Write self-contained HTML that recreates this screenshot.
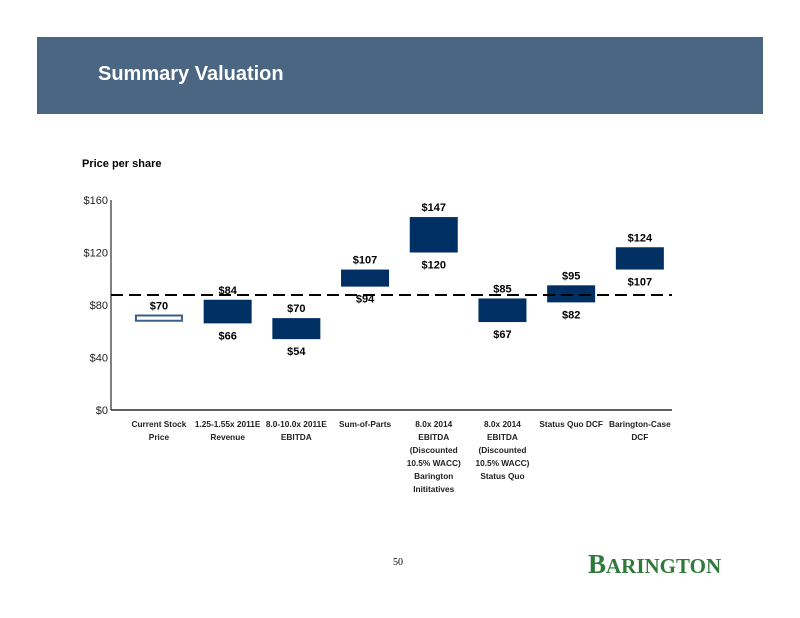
<!DOCTYPE html>
<html><head><meta charset="utf-8"><style>
body{margin:0;width:800px;height:618px;background:#fff;position:relative;overflow:hidden;font-family:"Liberation Sans",Arial,sans-serif}
.hdr{position:absolute;left:37px;top:37px;width:726px;height:77px;background:#4b6683}
.ttl{position:absolute;left:98px;top:63px;color:#fff;font-weight:bold;font-size:20px}
</style></head><body>
<div class="hdr"></div>
<div class="ttl">Summary Valuation</div>
<div style="position:absolute;left:82px;top:158px;font-size:11px;font-weight:bold">Price per share</div>
<svg id="chart" width="800" height="618" style="position:absolute;left:0;top:0"></svg>
<div style="position:absolute;left:393px;top:557px;font-family:'Liberation Serif',serif;font-size:10px">50</div>
<div style="position:absolute;left:588px;top:549px;font-family:'Liberation Serif',serif;font-weight:bold;color:#2f7a3a;font-size:27px">B<span style="font-size:21px">ARINGTON</span></div>
<script>
const categories=[["Current Stock","Price"],["1.25-1.55x 2011E","Revenue"],["8.0-10.0x 2011E","EBITDA"],["Sum-of-Parts"],["8.0x 2014","EBITDA","(Discounted","10.5% WACC)","Barington","Inititatives"],["8.0x 2014","EBITDA","(Discounted","10.5% WACC)","Status Quo"],["Status Quo DCF"],["Barington-Case","DCF"]];
const lows=[68,66,54,94,120,67,82,107];
const highs=[72,84,70,107,147,85,95,124];
const topLabels=["$70","$84","$70","$107","$147","$85","$95","$124"];
const bottomLabels=["","$66","$54","$94","$120","$67","$82","$107"];
const yTicks=[0,40,80,120,160];
const refPrice=87.6;
const NS="http://www.w3.org/2000/svg",svg=document.getElementById('chart');
const y=v=>410-v*210/160;
const x0=124.6,step=68.7,bw=48;
const cx=i=>x0+step*(i+0.5);
function mk(t,a,txt){const e=document.createElementNS(NS,t);for(const k in a)e.setAttribute(k,a[k]);if(txt!=null)e.textContent=txt;svg.appendChild(e);return e;}
let e=mk('line',{x1:111,y1:200,x2:111,y2:410,stroke:'#000','stroke-width':1});

e=mk('line',{x1:111,y1:410,x2:672,y2:410,stroke:'#000','stroke-width':1.2});

yTicks.forEach(v=>{const t=mk('text',{x:108,y:y(v)+4,'text-anchor':'end','font-size':11,fill:'#222'},'$'+v);
});
lows.forEach((lo,i)=>{const hi=highs[i];
const r=mk('rect',{x:cx(i)-bw/2+(i==0?1:0),y:y(hi),width:bw-(i==0?2:0),height:y(lo)-y(hi),fill:i==0?'#fff':'#002f63',stroke:i==0?'#3a5f8a':'none','stroke-width':2});

const t=mk('text',{x:cx(i),y:y(hi)-6,'text-anchor':'middle','font-size':11,'font-weight':'bold'},topLabels[i]);

if(bottomLabels[i]){const b=mk('text',{x:cx(i),y:y(lo)+16,'text-anchor':'middle','font-size':11,'font-weight':'bold'},bottomLabels[i]);
}
categories[i].forEach((ln,j)=>{const c=mk('text',{x:cx(i),y:427+j*13,'text-anchor':'middle','font-size':8.3,'font-weight':'bold',fill:'#222'},ln);
});
});
e=mk('line',{x1:111,y1:y(refPrice),x2:672,y2:y(refPrice),stroke:'#000','stroke-width':2,'stroke-dasharray':'12,6'});

</script>
</body></html>
